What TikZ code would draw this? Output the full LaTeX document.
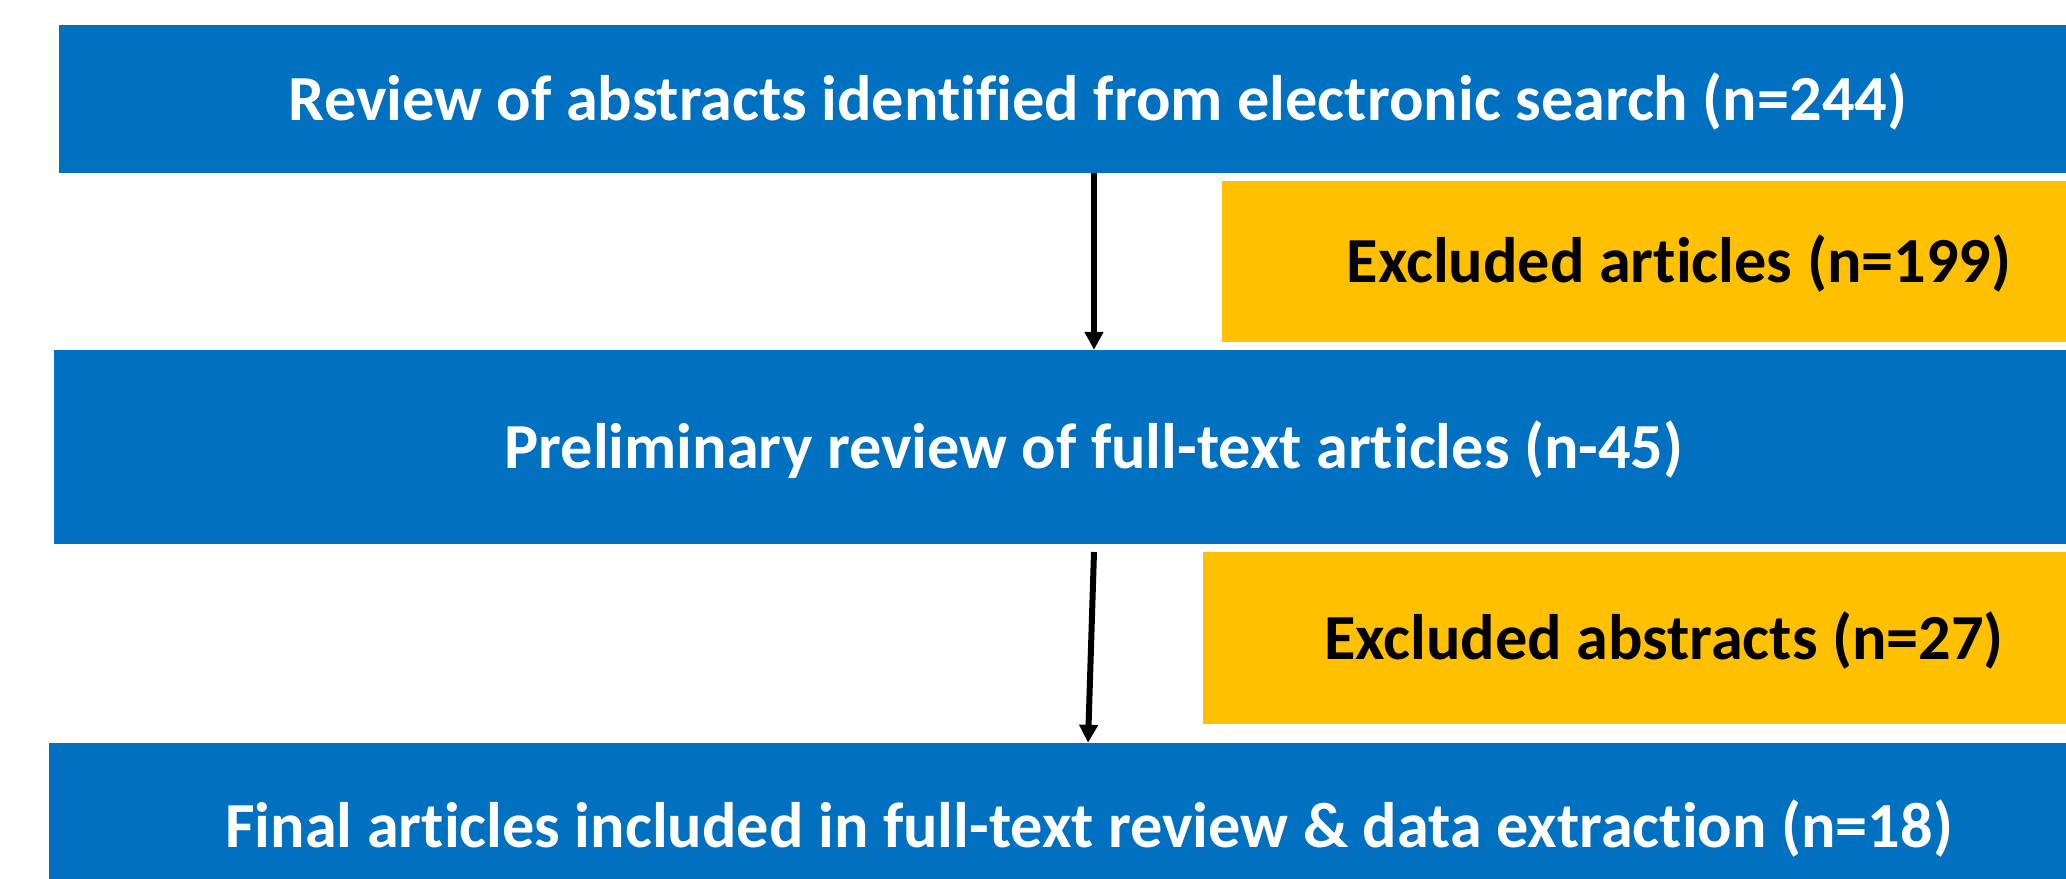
\documentclass[tikz,border=0pt]{standalone}
\usepackage{fontspec}
\setmainfont{Carlito}[Ligatures=CommonOff]
\usetikzlibrary{arrows.meta}
\definecolor{stageblue}{HTML}{0070C0}
\definecolor{exclgold}{HTML}{FFC000}
\begin{document}
\begin{tikzpicture}[x=1bp,y=-1bp,
  stagebox/.style={rectangle, fill=stageblue, text=white, inner sep=0pt,
    font=\fontsize{64.5}{78}\selectfont\bfseries, text height=42bp, text depth=0bp},
  exclbox/.style={rectangle, fill=exclgold, text=black, inner sep=0pt,
    font=\fontsize{64.5}{78}\selectfont\bfseries, text height=42bp, text depth=0bp},
  flow/.style={line width=6bp, -{Triangle[length=18bp,width=18bp]}}]
\useasboundingbox (0,0) rectangle (2066,879);
\clip (0,0) rectangle (2066,879);
\fill[white] (0,0) rectangle (2066,879);
% main stages
\node[stagebox, minimum width=2078bp, minimum height=147bp] (b1) at (1098,99)
  {Review of abstracts identified from electronic search (n=244)};
\node[stagebox, minimum width=2080bp, minimum height=194bp] (b2) at (1094,447)
  {Preliminary review of full-text articles (n-45)};
\node[stagebox, minimum width=2080bp, minimum height=167bp] (b3) at (1089,826.5)
  {Final articles included in full-text review \& data extraction (n=18)};
% exclusions
\node[exclbox, minimum width=914bp, minimum height=161bp] (e1) at (1679,261.5)
  {Excluded articles (n=199)};
\node[exclbox, minimum width=922bp, minimum height=172bp] (e2) at (1664,638)
  {Excluded abstracts (n=27)};
% connectors
\coordinate (s2) at (1094,552);
\draw[flow] (b1.south -| 1094,0) -- (b2.north -| 1094,0);
\draw[flow] (s2) -- (b3.north -| 1088,0);
\end{tikzpicture}
\end{document}
